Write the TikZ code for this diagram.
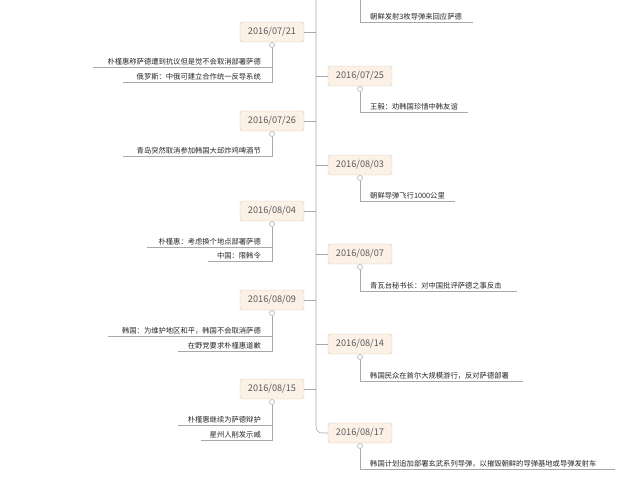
\documentclass[tikz,border=0pt]{standalone}
\usepackage{fontspec}
\setmainfont{Noto Sans CJK SC}
\begin{document}
\begin{tikzpicture}[x=1pt,y=-1pt,
  datebox/.style={draw=boxline,fill=boxfill,rounded corners=2.5pt,minimum width=64pt,minimum height=20pt,inner sep=0pt,font=\fontsize{9.2}{10}\selectfont,text=datetext},
  itemL/.style={anchor=south east,inner sep=1pt,font=\fontsize{7.3}{8}\selectfont,text=black!85},
  itemR/.style={anchor=south west,inner sep=1pt,font=\fontsize{7.3}{8}\selectfont,text=black!85},
  ln/.style={draw=linegray,line width=0.6pt},
  knob/.style={circle,draw=linegray,fill=white,inner sep=0pt,minimum size=5pt,line width=0.5pt}]
\definecolor{boxfill}{HTML}{FCF1E7}
\definecolor{boxline}{HTML}{D9C3AE}
\definecolor{datetext}{HTML}{5A5A5A}
\definecolor{linegray}{HTML}{A8A8A8}
\useasboundingbox (0,0) rectangle (640,479);
\coordinate (ttop) at (316,0);
\coordinate (tbot) at (316,433);
\foreach \n/\y/\t in {a/32/2016\slash 07\slash 21,b/121/2016\slash 07\slash 26,c/211/2016\slash 08\slash 04,d/300/2016\slash 08\slash 09,e/389/2016\slash 08\slash 15}{
  \node[datebox] (L\n) at (272,\y) {\t};
  \coordinate (LT\n) at (316,\y);
  \draw[ln] (L\n.east) -- (LT\n);
}
\foreach \n/\y/\t in {a/76/2016\slash 07\slash 25,b/165/2016\slash 08\slash 03,c/254/2016\slash 08\slash 07,d/344/2016\slash 08\slash 14}{
  \node[datebox] (R\n) at (360,\y) {\t};
  \coordinate (RT\n) at (316,\y);
  \draw[ln] (RT\n) -- (R\n.west);
}
\node[datebox] (Re) at (360,433) {2016/08/17};
\draw[ln,rounded corners=6pt] (ttop) -- (tbot) -- (Re.west);
% 07/21
\node[knob] (ka) at (272,45) {};
\coordinate (ua1) at (93,67); \coordinate (ua2) at (123,82);
\node[itemL] (ta1) at (262,66) {朴槿惠称萨德遭到抗议但是觉不会取消部署萨德};
\node[itemL] (ta2) at (262,81) {俄罗斯：中俄可建立合作统一反导系统};
\draw[ln] (ka.south) |- (ua2); \draw[ln] (ua1) -- (ua1-|ka);
% 07/26
\node[knob] (kb) at (272,134) {};
\coordinate (ub1) at (123,156);
\node[itemL] (tb1) at (262,155) {青岛突然取消参加韩国大邱炸鸡啤酒节};
\draw[ln] (kb.south) |- (ub1);
% 08/04
\node[knob] (kc) at (272,224) {};
\coordinate (uc1) at (147,247); \coordinate (uc2) at (208,261);
\node[itemL] (tc1) at (262,246) {朴槿惠：考虑换个地点部署萨德};
\node[itemL] (tc2) at (262,260) {中国：限韩令};
\draw[ln] (kc.south) |- (uc2); \draw[ln] (uc1) -- (uc1-|kc);
% 08/09
\node[knob] (kd) at (272,313) {};
\coordinate (ud1) at (108,336); \coordinate (ud2) at (178,351);
\node[itemL] (td1) at (262,335) {韩国：为维护地区和平，韩国不会取消萨德};
\node[itemL] (td2) at (262,350) {在野党要求朴槿惠道歉};
\draw[ln] (kd.south) |- (ud2); \draw[ln] (ud1) -- (ud1-|kd);
% 08/15
\node[knob] (ke) at (272,402) {};
\coordinate (ue1) at (178,425); \coordinate (ue2) at (201,440);
\node[itemL] (te1) at (262,424) {朴槿惠继续为萨德辩护};
\node[itemL] (te2) at (262,439) {星州人削发示威};
\draw[ln] (ke.south) |- (ue2); \draw[ln] (ue1) -- (ue1-|ke);
% right items
\coordinate (kz) at (360,0); \coordinate (uz) at (473,22);
\node[itemR] (tz) at (369,21) {朝鲜发射3枚导弹来回应萨德};
\draw[ln] (kz) |- (uz);
\foreach \n/\y/\u/\w/\t in {a/89/112/468/王毅：劝韩国珍惜中韩友谊,b/178/201/455/朝鲜导弹飞行1000公里,c/267/291/517/青瓦台秘书长：对中国批评萨德之事反击,d/357/381/523/韩国民众在首尔大规模游行，反对萨德部署,e/446/469/615/韩国计划追加部署玄武系列导弹，以摧毁朝鲜的导弹基地或导弹发射车}{
  \node[knob] (kr\n) at (360,\y) {};
  \coordinate (ur\n) at (\w,\u);
  \node[itemR] (tr\n) at (369,\u-1) {\t};
  \draw[ln] (kr\n.south) |- (ur\n);
}
\end{tikzpicture}
\end{document}
